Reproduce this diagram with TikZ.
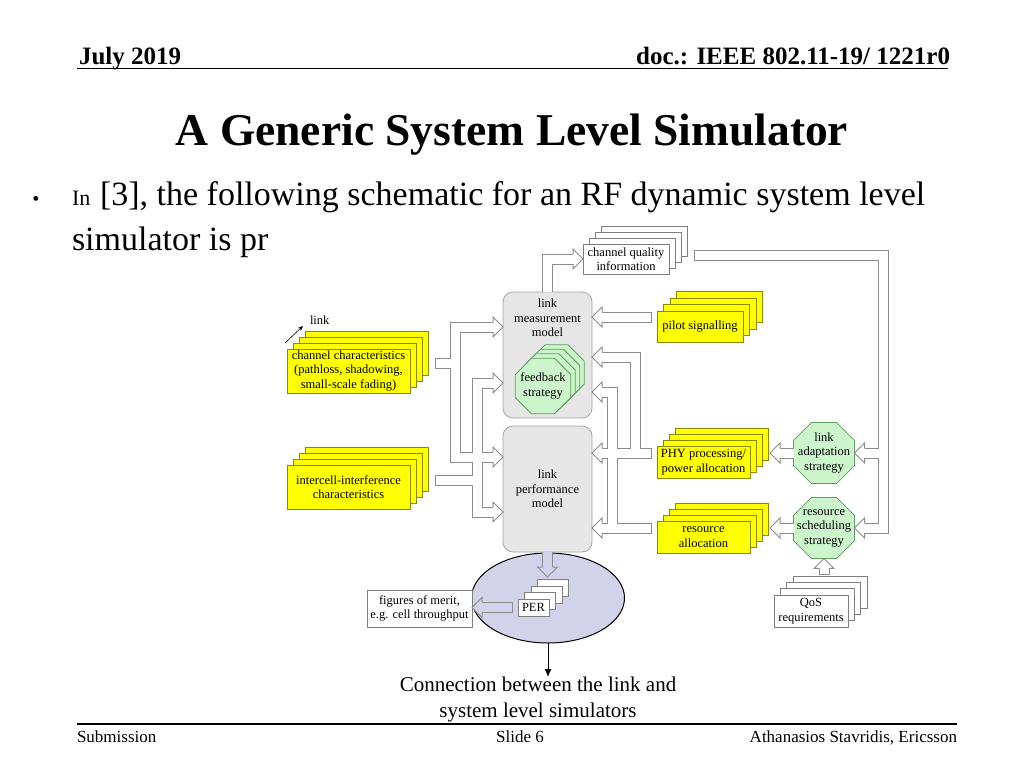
\documentclass[tikz,border=0pt]{standalone}
\usepackage{fontspec}
\setmainfont{Liberation Serif}
\usetikzlibrary{calc,shapes.geometric,arrows.meta}
\definecolor{shaftgray}{HTML}{8C8C8C}
\definecolor{yelfill}{HTML}{FFFF00}
\definecolor{yeldraw}{HTML}{8A8A00}
\definecolor{grnfill}{HTML}{CCF5CC}
\definecolor{grndraw}{HTML}{5E9E5E}
\definecolor{boxfill}{HTML}{E6E6E6}
\definecolor{boxdraw}{HTML}{A6A6A6}
\definecolor{lav}{HTML}{D2D2EA}
\definecolor{wdraw}{HTML}{7F7F7F}
\newcommand\fsz[2]{\fontsize{#1}{#2}\selectfont}
\tikzset{
  bhead/.pic={\filldraw[fill=white, draw=shaftgray, line width=1pt, line join=miter]
    (-10,5) -- (-10,10) -- (0,0) -- (-10,-10) -- (-10,-5);},
  bheadl/.pic={\filldraw[fill=lav, draw=shaftgray, line width=1pt, line join=miter]
    (-10,5) -- (-10,10) -- (0,0) -- (-10,-10) -- (-10,-5);}
}
\newcommand\setpass[3]{\tikzset{
  shaft/.style={draw=#1, line width=#2, line join=miter, shorten >=9pt, shorten <=#3},
  shaftj/.style={draw=#1, line width=#2, line join=miter, shorten >=9pt},
  stub/.style={draw=#1, line width=#2, line join=miter, shorten <=#3}}}
\newcommand\mainshafts{%
  \path[shaftj] (lmm.north) |- (cqi.west);
  \path[shaft] (qS) -| (v5) -- (rs.east);
  \path[shaftj] (v5 |- la.east) -- (la.east);
  \path[shaftj] (la.west) -- (la.west -| phyR);
  \path[shaftj] (rs.west) -- (rs.west -| raR);
  \path[shaft] (qosT -| rs.south) -- (rs.south);
  \path[shaft] (pS) -- (pS -| lmm.east);
  \path[shaft] (hS) -- (hS -| lpm.east);
  \path[shaftj] (hS -| v4) |- (m3);
  \path[shaft] (rS) -- (rS -| lpm.east);
  \path[shaftj] (rS -| v3) |- (m4);
  \path[shaftj] (cS -| v1) |- (m1);
  \path[shaftj] (cS -| v1) |- (p1);
  \path[stub] (cS) -- (cS -| v1);
  \path[shaftj] (iS -| v2) |- (m2);
  \path[shaftj] (iS -| v2) |- (p2);
  \path[stub] (iS) -- (iS -| v2);
}
\newcommand\lavshafts{%
  \path[shaftj] (lpm.south) -- (lpm.south |- perT);
  \path[shaft] (perL) -- (perL -| fom.east);
}
\newcommand\mystack[8]{%
  \foreach \k in {3,2,1}{\node[#1, minimum width=#5, minimum height=#6] at ($(#3,#4)+(\k*#7,-\k*#7)$) {};}%
  \node[#1, minimum width=#5, minimum height=#6] (#2) at (#3,#4) {#8};}
\begin{document}
\begin{tikzpicture}[x=1pt,y=-1pt,
  every node/.style={inner sep=0pt, outer sep=0pt},
  dtext/.style={align=center, font=\fsz{12.5}{14.5}},
  ybox/.style={dtext, draw=yeldraw, fill=yelfill, line width=0.8pt},
  wbox/.style={dtext, draw=wdraw, fill=white, line width=0.8pt},
  gbox/.style={dtext, draw=boxdraw, fill=boxfill, line width=0.8pt, rounded corners=10pt},
  octo/.style={regular polygon, regular polygon sides=8, draw=grndraw, fill=grnfill, line width=0.8pt},
  head/.style={font=\bfseries\fsz{25}{30}},
  body/.style={font=\fsz{34}{45}},
  foot/.style={font=\fsz{17}{20}}]
\fill[white] (0,0) rectangle (1024,768);
\useasboundingbox (0,0) rectangle (1024,768);
% header
\node[head, anchor=base west] (date) at (79,64) {July 2019};
\node[head, anchor=base east] (doc) at (950,64) {doc.: IEEE 802.11-19/ 1221r0};
\draw[line width=1.2pt] (77,68.5) -- (948,68.5);
\node[font=\bfseries\fsz{45.5}{50}, anchor=base] (title) at (512,145) {A Generic System Level Simulator};
\node[font=\fsz{20}{24}, anchor=base] (bul) at (36,205) {•};
\node[font=\fsz{22}{26}, anchor=base west] (in) at (72,205) {In};
\node[body, anchor=base west] (l1) at (100,205) {[3], the following schematic for an RF dynamic system level};
\node[body, anchor=base west] (l2) at (72,250) {simulator is pr};
% footer
\draw[line width=1.2pt] (77,724) -- (957,724);
\node[foot, anchor=base west] (sub) at (77,742) {Submission};
\node[foot, anchor=base] (sl) at (520,742) {Slide 6};
\node[foot, anchor=base east] (auth) at (957,742) {Athanasios Stavridis, Ericsson};
% ellipse
\node[ellipse, draw=black, fill=lav, line width=1pt, minimum width=153, minimum height=90] (ell) at (548,598) {};
% gray models
\node[gbox, minimum width=89, minimum height=126] (lmm) at (547.5,355) {};
\node[dtext] (lmmt) at (547.5,318) {link\\measurement\\model};
\node[gbox, minimum width=89, minimum height=126] (lpm) at (547.5,489) {link\\performance\\model};
% feedback octagons
\foreach \k in {3,2,1}{\node[octo, minimum size=60] at ($(543,386)+(\k*4.5,-\k*4.5)$) {};}
\node[octo, minimum size=60] (fb) at (543,386) {};
\node[dtext] (fbt) at (fb) {feedback\\strategy};
% stacks
\mystack{ybox}{chan}{348.5}{371}{123}{44}{6}{channel characteristics\\(pathloss, shadowing,\\small-scale fading)}
\mystack{ybox}{inter}{348.5}{487}{123}{44}{6}{intercell-interference\\characteristics}
\mystack{wbox}{cqi}{626}{259}{86}{30}{6}{channel quality\\information}
\mystack{ybox}{pilot}{700}{326.5}{86}{31}{6.5}{pilot signalling}
\mystack{ybox}{phy}{703.5}{462}{93}{32}{6}{PHY processing/\\power allocation}
\mystack{ybox}{ra}{703.5}{537}{93}{32}{6}{resource\\allocation}
\mystack{wbox}{qos}{811}{611}{74}{32}{6.3}{QoS\\requirements}
\mystack{wbox}{per}{533.5}{607.5}{31}{17}{6.5}{PER}
\node[wbox, minimum width=105, minimum height=37] (fom) at (419.5,608.5) {figures of merit,\\e.g. cell throughput};
% strategy octagons
\node[octo, minimum size=66] (la) at (824,453) {};
\node[dtext] (lat) at (la) {link\\adaptation\\strategy};
\node[octo, minimum size=66] (rs) at (824,528) {};
\node[dtext] (rst) at (rs) {resource\\scheduling\\strategy};
% link label
\coordinate (lkS) at (285,343);
\node[dtext, anchor=west] (lnk) at (310,320) {link};
\draw[-{Stealth[length=5pt,width=4pt]}, line width=0.6pt] (lkS) -- ($(lnk.west)+(-7,6)$);
% helper coordinates
\coordinate (cS) at ($(chan.east)+(25,-8)$);
\coordinate (iS) at ($(inter.east)+(25,-7)$);
\coordinate (pS) at ($(pilot.west)+(-5,-9.5)$);
\coordinate (hS) at ($(phy.west)+(-5,-9)$);
\coordinate (rS) at ($(ra.west)+(-5,-9)$);
\coordinate (qS) at ($(cqi.east)+(25,-4)$);
\coordinate (v1) at ($(lmm.west)+(-48,0)$);
\coordinate (v2) at ($(lmm.west)+(-26,0)$);
\coordinate (v3) at ($(lmm.east)+(20,0)$);
\coordinate (v4) at ($(lmm.east)+(43,0)$);
\coordinate (v5) at ($(rs.east)+(29,0)$);
\coordinate (m1) at ($(lmm.west)+(0,-28)$);
\coordinate (m2) at ($(lmm.west)+(0,28)$);
\coordinate (m3) at ($(lmm.east)+(0,2)$);
\coordinate (m4) at ($(lmm.east)+(0,37)$);
\coordinate (p1) at ($(lpm.west)+(0,-32)$);
\coordinate (p2) at ($(lpm.west)+(0,23)$);
\coordinate (phyR) at ($(phy.east)+(20,0)$);
\coordinate (raR) at ($(ra.east)+(20,0)$);
\coordinate (qosT) at ($(qos.north)+(0,-20)$);
\coordinate (perT) at ($(per.north)+(0,-22)$);
\coordinate (perL) at ($(per.west)+(-5,0)$);
% block arrows: outline pass, then interior pass
\setpass{shaftgray}{11pt}{0pt}\mainshafts\lavshafts
\setpass{white}{9pt}{1pt}\mainshafts
\setpass{lav}{9pt}{1pt}\lavshafts
% heads
\path (cqi.west) pic {bhead};
\path (rs.east) pic[rotate=180] {bhead};
\path (la.east) pic[rotate=180] {bhead};
\path (la.west -| phyR) pic[rotate=180] {bhead};
\path (rs.west -| raR) pic[rotate=180] {bhead};
\path (rs.south) pic[rotate=90] {bhead};
\path (pS -| lmm.east) pic[rotate=180] {bhead};
\path (hS -| lpm.east) pic[rotate=180] {bhead};
\path (m3) pic[rotate=180] {bhead};
\path (rS -| lpm.east) pic[rotate=180] {bhead};
\path (m4) pic[rotate=180] {bhead};
\path (m1) pic {bhead};
\path (p1) pic {bhead};
\path (m2) pic {bhead};
\path (p2) pic {bhead};
\path (lpm.south |- perT) pic[rotate=-90] {bheadl};
\path (perL -| fom.east) pic[rotate=180] {bheadl};
% connection
\node[font=\fsz{21}{26}, align=center, anchor=north] (conn) at (538,677) {Connection between the link and\\system level simulators};
\draw[-{Latex[length=8pt,width=7pt]}, line width=1pt] (ell.south) -- (ell.south |- conn.north);
\end{tikzpicture}
\end{document}
